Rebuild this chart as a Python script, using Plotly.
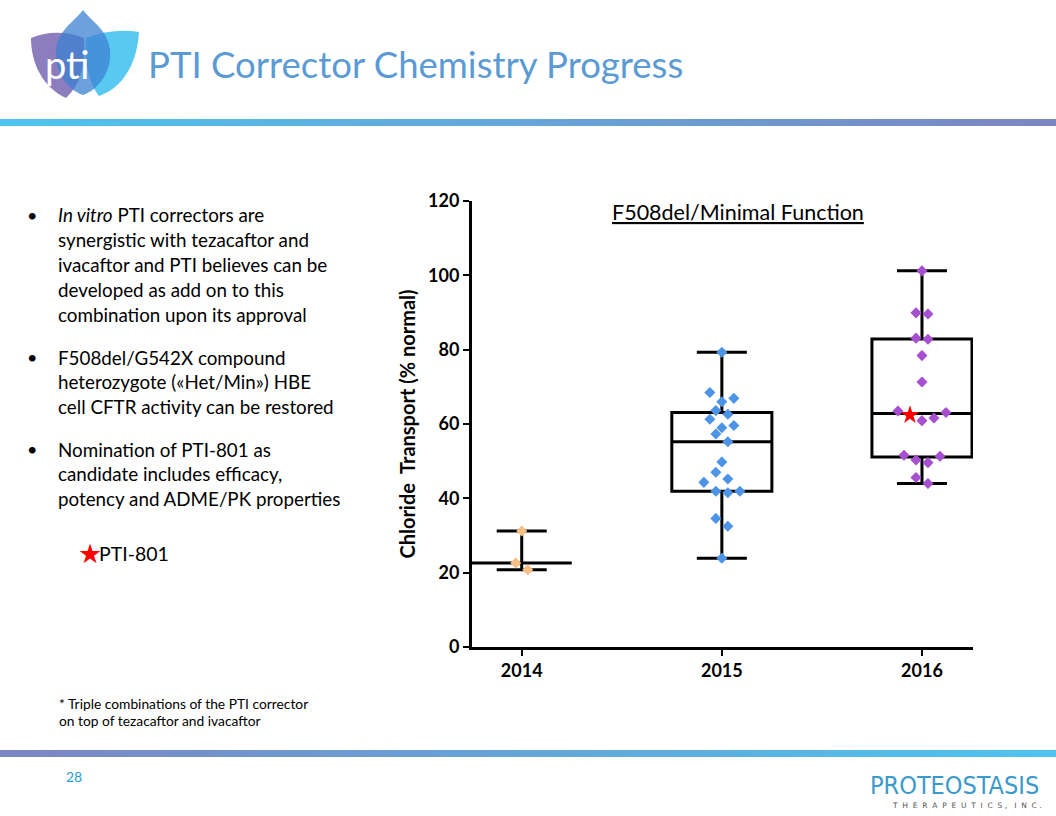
import plotly.graph_objects as go

# ---------------- data ----------------
years = ["2014", "2015", "2016"]
values_2014 = [31.2, 22.6, 20.8]
values_2015 = [79.3, 68.5, 66.9, 66.0, 63.6, 62.6, 61.3, 59.6, 59.0, 57.3, 55.2,
               49.8, 47.0, 45.2, 44.3, 41.9, 41.9, 41.5, 34.6, 32.5, 23.9]
values_2016 = [101.2, 89.9, 89.6, 83.1, 82.8, 78.4, 71.3, 63.5, 63.1, 62.4, 61.6,
               60.9, 51.6, 51.3, 50.3, 49.6, 45.6, 44.0]
pti801_value_2016 = 62.4
box_q1 = [22.6, 41.9, 51.1]
box_median = [22.6, 55.2, 62.8]
box_q3 = [22.6, 63.1, 82.9]
box_min = [20.8, 23.9, 44.0]
box_max = [31.2, 79.3, 101.2]
y_ticks = [0, 20, 40, 60, 80, 100, 120]

bullets = [
    ["<i>In vitro</i> PTI correctors are", "synergistic with tezacaftor and",
     "ivacaftor and PTI believes can be", "developed as add on to this",
     "combination upon its approval"],
    ["F508del/G542X compound", "heterozygote («Het/Min») HBE",
     "cell CFTR activity can be restored"],
    ["Nomination of PTI-801 as", "candidate includes efficacy,",
     "potency and ADME/PK properties"],
]
footnote = ["* Triple combinations of the PTI corrector", "on top of tezacaftor and ivacaftor"]

# ---------------- page geometry helpers ----------------
W, H = 1056, 816
def px(x):
    return x / W
def py(y):
    return 1 - y / H

PLOT_L, PLOT_R, PLOT_T, PLOT_B = 471.7, 973.0, 201.0, 647.0
X_RANGE = [-0.25, 2.255]
Y_RANGE = [0, 120]
x_unit_px = (PLOT_R - PLOT_L) / (X_RANGE[1] - X_RANGE[0])
y_unit_px = (PLOT_B - PLOT_T) / (Y_RANGE[1] - Y_RANGE[0])

FONT = "Lato, 'Open Sans', sans-serif"
point_colors = ["#F8BE85", "#4D94E6", "#A64FD0"]


def swarm(vals, row_px=12.3, step_px=12.0):
    """Prism-like column scatter: group into rows, centre each row."""
    row_h = row_px / y_unit_px
    step = step_px / x_unit_px
    s = sorted(vals)
    rows = []
    for v in s:
        if rows and v - rows[-1][0] <= row_h:
            rows[-1].append(v)
        else:
            rows.append([v])
    xs, ys = [], []
    for r in rows:
        n = len(r)
        if n % 2:
            order = [0]
            k = 1
            while len(order) < n:
                order += [k, -k]
                k += 1
        else:
            order = []
            k = 0.5
            while len(order) < n:
                order += [k, -k]
                k += 1
        for v, o in zip(r, order[:n]):
            xs.append(o * step)
            ys.append(v)
    return xs, ys


fig = go.Figure()

# boxes
fig.add_trace(go.Box(
    x=[0, 1, 2], q1=box_q1, median=box_median, q3=box_q3,
    lowerfence=box_min, upperfence=box_max,
    width=0.5, whiskerwidth=0.5, boxpoints=False,
    line=dict(color="black", width=3), fillcolor="rgba(0,0,0,0)",
    hoverinfo="skip", showlegend=False,
))

# points
for i, vals in enumerate([values_2014, values_2015, values_2016]):
    ox, oy = swarm(vals)
    dx, dy, sx, sy = [], [], [], []
    star_done = False
    for o, v in zip(ox, oy):
        if i == 2 and not star_done and abs(v - pti801_value_2016) < 1e-9:
            sx.append(i + o); sy.append(v); star_done = True
        else:
            dx.append(i + o); dy.append(v)
    fig.add_trace(go.Scatter(
        x=dx, y=dy, mode="markers",
        marker=dict(symbol="diamond", size=8.5, color=point_colors[i], line=dict(width=0)),
        showlegend=False, name=years[i],
    ))
    if sx:
        fig.add_trace(go.Scatter(
            x=sx, y=sy, mode="markers",
            marker=dict(symbol="star", size=14, color="#FF0000", line=dict(width=0)),
            showlegend=False, name="PTI-801",
        ))

axis_common = dict(showline=True, linecolor="black", linewidth=2.5, ticks="outside",
                   ticklen=6, tickwidth=2, tickcolor="black", showgrid=False, zeroline=False,
                   automargin=False,
                   tickfont=dict(family=FONT, size=18, color="black", weight="bold"))
fig.update_xaxes(domain=[px(PLOT_L), px(PLOT_R)], range=X_RANGE,
                 tickvals=[0, 1, 2], ticktext=years, **axis_common)
fig.update_yaxes(domain=[py(PLOT_B), py(PLOT_T)], range=Y_RANGE, tickvals=y_ticks,
                 title=dict(text="Chloride\u00a0 Transport (% normal)", standoff=8,
                            font=dict(family=FONT, size=20, color="black", weight="bold")),
                 **axis_common)

annotations = []
shapes = []

def text(x, y, t, size, color="black", anchor="left", family=FONT, **kw):
    annotations.append(dict(x=px(x), y=py(y), xref="paper", yref="paper", text=t,
                            showarrow=False, xanchor=anchor, yanchor="middle",
                            font=dict(family=family, size=size, color=color), **kw))

# title
text(146, 64, "PTI Corrector Chemistry Progress", 36.5, color="#5B9BD5")
# chart title
text(737.5, 212, "<u>F508del/Minimal Function</u>", 21.5, anchor="center")

# bullets
line_gap = 24.8
starts = [215, 357, 449]
for block, y0 in zip(bullets, starts):
    text(25, y0, "•", 18)
    for j, ln in enumerate(block):
        text(56, y0 + j * line_gap, ln, 18.8)
# legend star
text(76, 552, "★", 27, color="#FF0000")
text(97, 553, "PTI-801", 19.5)
# footnote
text(57, 703, footnote[0], 13.8)
text(57, 720, footnote[1], 13.8)
# page number
text(64, 776, "28", 14, color="#1FA0D8")
# Proteostasis logo
text(1041, 785, "PROTEOSTASIS", 25, color="#3A9ACB", anchor="right",
     family="'Liberation Sans Narrow', 'DejaVu Sans Condensed', sans-serif")
text(1044, 805, "T\u00a0\u00a0H\u00a0\u00a0E\u00a0\u00a0R\u00a0\u00a0A\u00a0\u00a0P\u00a0\u00a0E\u00a0\u00a0U\u00a0\u00a0T\u00a0\u00a0I\u00a0\u00a0C\u00a0\u00a0S\u00a0,\u00a0\u00a0\u00a0I\u00a0\u00a0N\u00a0\u00a0C\u00a0.",
     7.5, color="#555555", anchor="right", family="'DejaVu Sans', sans-serif")

# gradient bars
def lerp(c1, c2, t):
    return "rgb(%d,%d,%d)" % tuple(round(a + (b - a) * t) for a, b in zip(c1, c2))

cyan = (78, 196, 238)
purple = (124, 134, 196)
N = 80
for k in range(N):
    x0, x1 = W * k / N, W * (k + 1) / N + 0.8
    t = k / (N - 1)
    shapes.append(dict(type="rect", xref="paper", yref="paper", x0=px(x0), x1=px(x1),
                       y0=py(126), y1=py(119), line=dict(width=0), fillcolor=lerp(cyan, purple, t),
                       layer="below"))
    shapes.append(dict(type="rect", xref="paper", yref="paper", x0=px(x0), x1=px(x1),
                       y0=py(757), y1=py(750), line=dict(width=0), fillcolor=lerp(purple, cyan, t),
                       layer="below"))

# pti logo petals
def path(pts_cmd):
    out = []
    for tok in pts_cmd:
        if isinstance(tok, str):
            out.append(tok)
        else:
            out.append("%.5f,%.5f" % (px(tok[0]), py(tok[1])))
    return " ".join(out)

petals = [
    (["M", (31, 38), "C", (48, 31), (66, 31), (84, 38), "C", (86, 65), (80, 85), (66, 98),
      "C", (44, 88), (31, 65), (31, 38), "Z"], "rgba(128,112,182,0.9)"),
    (["M", (139, 32), "C", (122, 29), (104, 31), (86, 38), "C", (84, 65), (90, 85), (99, 96),
      "C", (122, 88), (137, 65), (139, 32), "Z"], "rgba(70,196,240,0.9)"),
    (["M", (83, 10), "C", (92, 22), (108, 30), (110, 50), "C", (112, 72), (98, 90), (83, 95),
      "C", (68, 90), (54, 72), (56, 50), "C", (58, 30), (74, 22), (83, 10), "Z"],
     "rgba(60,130,210,0.75)"),
]
for p, c in petals:
    shapes.append(dict(type="path", xref="paper", yref="paper", path=path(p),
                       fillcolor=c, line=dict(width=0), layer="below"))
text(67, 64, "pti", 38, color="white", anchor="center")

fig.update_layout(width=W, height=H, margin=dict(l=0, r=0, t=0, b=0, autoexpand=False),
                  autosize=False, paper_bgcolor="white", plot_bgcolor="white", showlegend=False,
                  annotations=annotations, shapes=shapes)

fig.write_html("out.html", config={"responsive": False})
